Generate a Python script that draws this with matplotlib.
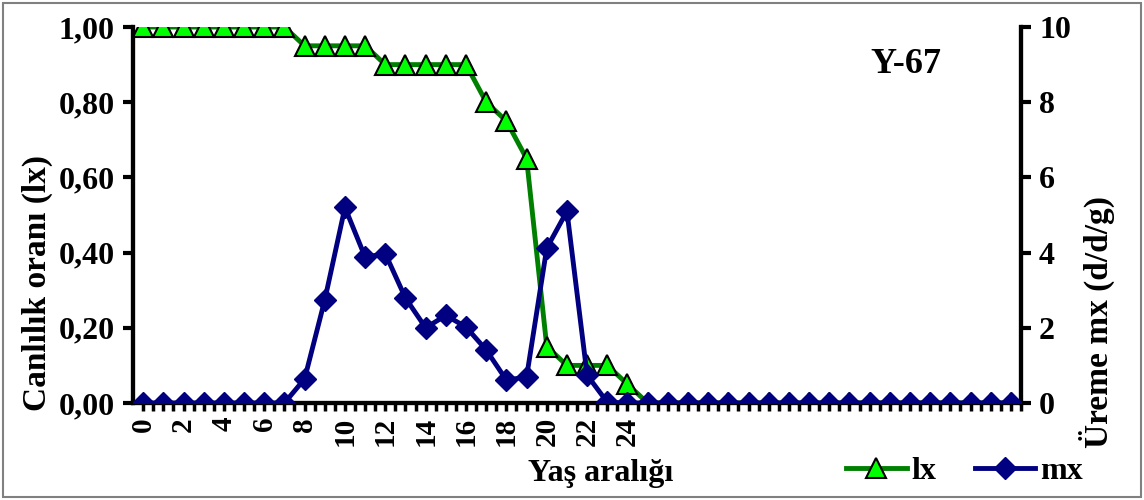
import matplotlib
matplotlib.use('Agg')
import matplotlib.pyplot as plt
from matplotlib.patches import Rectangle

# age classes (days)
ages = list(range(44))
lx = [1.00, 1.00, 1.00, 1.00, 1.00, 1.00, 1.00, 1.00,
      0.95, 0.95, 0.95, 0.95,
      0.90, 0.90, 0.90, 0.90, 0.90,
      0.80, 0.75, 0.65, 0.15, 0.10, 0.10, 0.10, 0.05] + [0.0] * 19
mx = [0, 0, 0, 0, 0, 0, 0, 0,
      0.64, 2.74, 5.20, 3.88, 3.97, 2.79, 2.00, 2.33, 2.02,
      1.41, 0.61, 0.69, 4.12, 5.10, 0.74, 0.02, 0] + [0.0] * 19

x_tick_labels = [str(a) for a in range(0, 25, 2)]
lx_ticks = [0.0, 0.2, 0.4, 0.6, 0.8, 1.0]
lx_tick_labels = ['0,00', '0,20', '0,40', '0,60', '0,80', '1,00']
mx_ticks = [0, 2, 4, 6, 8, 10]

plt.rcParams['font.family'] = ['Liberation Serif', 'DejaVu Serif']
plt.rcParams['font.weight'] = 'bold'

fig = plt.figure(figsize=(11.44, 5), dpi=100)
ax = fig.add_axes([0.1163, 0.194, 0.7762, 0.752])
ax2 = ax.twinx()

# chart frame
fig.patches.append(Rectangle((0.003, 0.006), 0.994, 0.988, transform=fig.transFigure,
                             fill=False, edgecolor='#808080', linewidth=1.5))

l1, = ax.plot(ages, lx, '-', color='#008000', linewidth=3.5, marker='^', markersize=14,
              markerfacecolor='#00FF00', markeredgecolor='black', markeredgewidth=1.5,
              label='lx', zorder=3)
l2, = ax2.plot(ages, mx, '-', color='#000080', linewidth=3.5, marker='D', markersize=11,
               markerfacecolor='#000080', markeredgecolor='#000080', label='mx', zorder=3)

ax.set_xlim(-0.5, 43.5)
ax.set_ylim(0, 1.0)
ax2.set_ylim(0, 10)

ax.set_yticks(lx_ticks)
ax.set_yticklabels(lx_tick_labels)
ax2.set_yticks(mx_ticks)

ax.set_xticks([a for a in range(0, 25, 2)])
ax.set_xticklabels(x_tick_labels, rotation=90)
ax.set_xticks([i * 0.5 for i in range(0, 88)], minor=True)

for a in (ax, ax2):
    a.spines['top'].set_visible(False)
    for side in ('left', 'right', 'bottom'):
        a.spines[side].set_linewidth(3)

ax.tick_params(axis='y', labelsize=23, width=3, length=7, direction='out', pad=6)
ax2.tick_params(axis='y', labelsize=23, width=3, length=7, direction='out', pad=6)
ax.tick_params(axis='x', which='major', labelsize=21, width=2.5, length=6, pad=4)
ax.tick_params(axis='x', which='minor', width=2.5, length=6)

ax.set_xlabel('Yaş aralığı', fontsize=23, fontweight='bold')
ax.xaxis.set_label_coords(0.527, -0.15)
ax.set_ylabel('Canlılık oranı (lx)', fontsize=24, fontweight='bold')
ax.yaxis.set_label_coords(-0.09, 0.32)
ax2.set_ylabel('Üreme mx (d/d/g)', fontsize=24, fontweight='bold')
ax2.yaxis.set_label_coords(1.065, 0.215)

ax.text(0.87, 0.9, 'Y-67', transform=ax.transAxes, fontsize=26, fontweight='bold',
        ha='center', va='center')

fig.legend(handles=[l1, l2], loc='center', bbox_to_anchor=(0.843, 0.057), ncol=2,
           frameon=False, fontsize=23, handlelength=1.9, columnspacing=1.2,
           handletextpad=0.15)

fig.savefig('out.png', dpi=100)
